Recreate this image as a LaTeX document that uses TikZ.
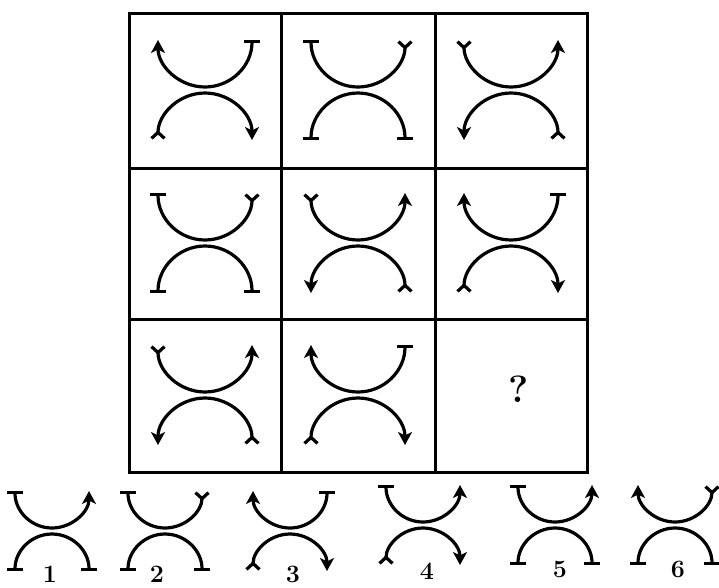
\documentclass[tikz,border=0pt]{standalone}
\usepackage{fontspec}
\usepackage{tikz}
\usetikzlibrary{arrows.meta}

\tikzset{
  hd/.tip={Stealth[length=13pt,width=14pt,inset=3.5pt]},
  fk/.tip={Straight Barb[reversed,length=6pt,width=13pt]},
  br/.tip={Bar[width=16pt]},
  grid/.style={line width=3pt},
  curve/.style={line width=3.2pt},
  lbl/.style={font=\fontsize{25}{27}\selectfont\bfseries,inner sep=1pt},
}

\begin{document}
\begin{tikzpicture}[x=1pt,y=1pt]
\newcommand{\swirl}[5]{%
  \begin{scope}[shift={(#1,-#2)}]
    \draw[curve,#4] (-#3,#3+3) arc[start angle=180,end angle=360,radius=#3];
    \draw[curve,#5] (-#3,-#3-3) arc[start angle=180,end angle=0,radius=#3];
  \end{scope}
}
\useasboundingbox (0,0) rectangle (719,-587);
% grid
\draw[grid] (129,-13) rectangle (587,-472);
\foreach \x in {281,435} \draw[grid] (\x,-13) -- (\x,-472);
\foreach \y in {168,319} \draw[grid] (129,-\y) -- (587,-\y);
% row 1
\swirl{205}{90}{47}{hd-br}{fk-hd}
\swirl{358}{90}{47}{br-fk}{br-br}
\swirl{511}{90}{47}{fk-hd}{hd-fk}
% row 2
\swirl{205}{243}{47}{br-fk}{br-br}
\swirl{358}{243}{47}{fk-hd}{hd-fk}
\swirl{511}{243}{47}{hd-br}{fk-hd}
% row 3
\swirl{205}{395}{47}{fk-hd}{hd-fk}
\swirl{358}{395}{47}{hd-br}{fk-hd}
\node[font=\fontsize{38}{40}\selectfont\bfseries] (quest) at (519,-389) {?};
% answers
\swirl{52}{531}{37}{br-hd}{br-br}
\swirl{165}{531}{37}{br-fk}{br-br}
\swirl{290}{531}{37}{hd-br}{fk-hd}
\swirl{423}{525}{37}{br-hd}{fk-hd}
\swirl{555}{525}{37}{br-hd}{br-br}
\swirl{675}{525}{37}{hd-fk}{br-br}
\node[lbl] (n1) at (50,-574) {1};
\node[lbl] (n2) at (157,-574) {2};
\node[lbl] (n3) at (293,-574) {3};
\node[lbl] (n4) at (427,-571) {4};
\node[lbl] (n5) at (560,-569) {5};
\node[lbl] (n6) at (678,-569) {6};
\end{tikzpicture}
\end{document}
